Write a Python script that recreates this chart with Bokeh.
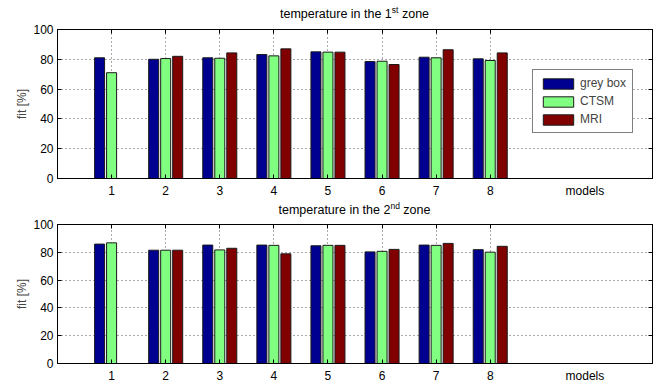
from bokeh.plotting import figure
from bokeh.layouts import column
from bokeh.models import FixedTicker, LinearAxis, Range1d, Legend, LegendItem, Div
from bokeh.embed import file_html
from bokeh.resources import INLINE

models = [1, 2, 3, 4, 5, 6, 7, 8]
xlabel_pos = 9.75
series = ["grey box", "CTSM", "MRI"]
colors = ["#000090", "#80FF80", "#800000"]

zone1_grey = [81, 80, 81, 83.2, 85, 78.5, 81.4, 80.3]
zone1_ctsm = [71, 80.5, 80.7, 82.3, 84.8, 78.7, 81, 79.2]
zone1_mri = [0, 82, 84.3, 87, 84.8, 76.5, 86.4, 84.3]

zone2_grey = [85.9, 81.5, 85.2, 85.2, 84.7, 80.3, 85.2, 81.9]
zone2_ctsm = [86.8, 81.5, 81.7, 85, 85, 80.7, 85, 80.1]
zone2_mri = [0, 81.5, 82.9, 78.9, 85, 82.1, 86.4, 84.3]

yticks = [0, 20, 40, 60, 80, 100]
FONT = "Liberation Sans"


def title_div(num, sup, h, pad_top):
    html = ('<div style="box-sizing:border-box;width:657px;padding-left:57px;padding-right:5px;'
            'padding-top:%dpx;text-align:center;font-family:\'Liberation Sans\';font-size:12.5px;'
            'line-height:14px;color:black;white-space:nowrap;">'
            'temperature in the %s<span style="font-size:8.5px;position:relative;top:-5px;">%s</span> zone'
            '</div>') % (pad_top, num, sup)
    return Div(text=html, width=657, height=h, margin=(0, 0, 0, 0))


def make(h, bt, bb, vals, legend):
    p = figure(width=657, height=h, x_range=Range1d(0, 11), y_range=Range1d(0, 100),
               output_backend="svg", toolbar_location=None,
               min_border_left=57, min_border_right=5, min_border_top=bt, min_border_bottom=bb)
    p.outline_line_color = "black"
    p.outline_line_width = 1
    p.background_fill_color = "white"
    p.border_fill_color = "white"

    xa = p.xaxis[0]
    xa.ticker = FixedTicker(ticks=models + [xlabel_pos], minor_ticks=models)
    xa.major_label_overrides = {xlabel_pos: "models"}
    xa.major_tick_in = 0
    xa.major_tick_out = 0
    xa.minor_tick_in = 4
    xa.minor_tick_out = 0
    xa.minor_tick_line_color = "black"
    xa.major_label_standoff = 5

    ya = p.yaxis[0]
    ya.ticker = FixedTicker(ticks=yticks)
    ya.major_tick_in = 4
    ya.major_tick_out = 0
    ya.minor_tick_line_color = None
    ya.major_label_standoff = 4
    ya.axis_label = "fit [%]"
    ya.axis_label_text_font = FONT
    ya.axis_label_text_font_size = "12px"
    ya.axis_label_text_font_style = "normal"
    ya.axis_label_standoff = 1

    for ax in (xa, ya):
        ax.axis_line_color = "black"
        ax.major_tick_line_color = "black"
        ax.major_label_text_font = FONT
        ax.major_label_text_font_size = "12px"
        ax.major_label_text_color = "black"

    top = LinearAxis(ticker=FixedTicker(ticks=[], minor_ticks=models),
                     major_tick_line_color=None, minor_tick_in=4, minor_tick_out=0,
                     minor_tick_line_color="black", axis_line_color="black")
    right = LinearAxis(ticker=FixedTicker(ticks=[], minor_ticks=yticks),
                       major_tick_line_color=None, minor_tick_in=4, minor_tick_out=0,
                       minor_tick_line_color="black", axis_line_color="black")
    p.add_layout(top, "above")
    p.add_layout(right, "right")

    p.xgrid.ticker = FixedTicker(ticks=models)
    p.ygrid.ticker = FixedTicker(ticks=[20, 40, 60, 80])
    for g in (p.xgrid[0], p.ygrid[0]):
        g.grid_line_color = "#555555"
        g.grid_line_dash = "1 3"
        g.grid_line_width = 1

    offsets = [-0.222, 0.0, 0.222]
    rends = []
    for vs, c, off in zip(vals, colors, offsets):
        xs = [m + off for m in models]
        r = p.vbar(x=xs, top=vs, bottom=0, width=0.185, fill_color=c, line_color="#1a1a1a", line_width=1)
        rends.append(r)

    if legend:
        leg = Legend(items=[LegendItem(label=s, renderers=[r]) for s, r in zip(series, rends)],
                     location=(475, 45), border_line_color="black", border_line_width=1,
                     background_fill_color="white", background_fill_alpha=1,
                     label_text_font=FONT, label_text_font_size="12px",
                     glyph_width=38, glyph_height=13, label_height=13, label_standoff=3,
                     spacing=4, padding=6, margin=0)
        p.add_layout(leg)
    return p


d1 = title_div("1", "st", 22, 7)
p1 = make(178, 7, 22, [zone1_grey, zone1_ctsm, zone1_mri], True)
d2 = title_div("2", "nd", 18, 3)
p2 = make(167, 6, 19, [zone2_grey, zone2_ctsm, zone2_mri], False)

layout = column(d1, p1, d2, p2, spacing=0)
open("out.html", "w").write(file_html(layout, INLINE))
